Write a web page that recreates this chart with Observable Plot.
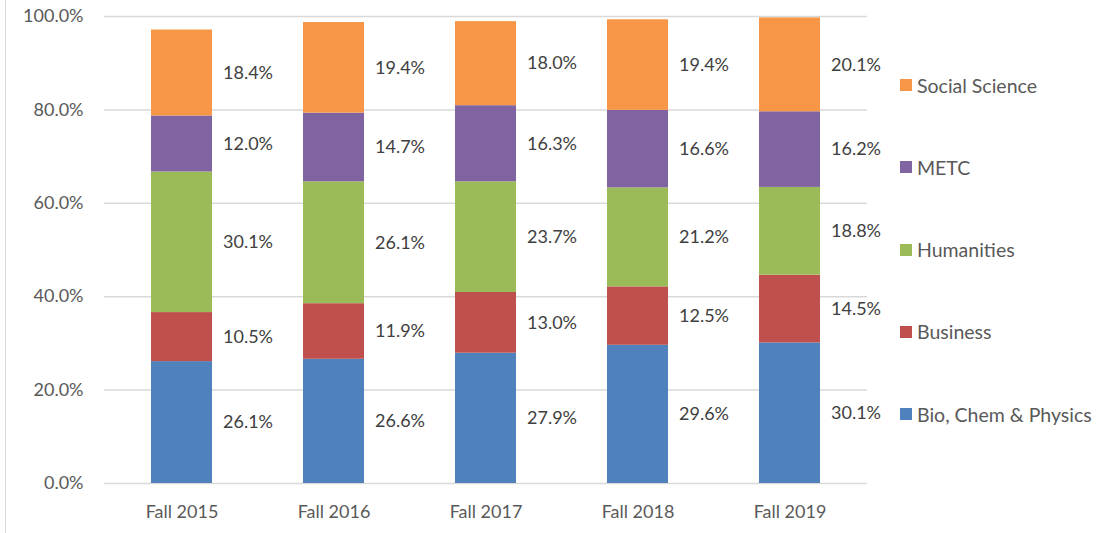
<!DOCTYPE html>
<html>
<head>
<meta charset="utf-8">
<script src="https://cdn.jsdelivr.net/npm/d3@7"></script>
<script src="https://cdn.jsdelivr.net/npm/@observablehq/plot@0.6"></script>
<style>
  html, body { margin: 0; padding: 0; background: #fff; }
  #wrap { position: relative; width: 1102px; height: 533px; font-family: Lato, "Open Sans", sans-serif; color: #595959; }
  #border { position: absolute; left: 5px; top: 0; width: 1px; height: 533px; background: #d9d9d9; }
  #legend { position: absolute; left: 900px; top: 73px; }
  .item { display: flex; align-items: center; height: 24px; margin-bottom: 58.3px; font-size: 19.5px; white-space: nowrap; }
  .sw { width: 12px; height: 12px; margin-right: 5px; }
</style>
</head>
<body>
<div id="wrap"><div id="border"></div><div id="chart"></div><div id="legend"></div></div>
<script>
const terms = ["Fall 2015", "Fall 2016", "Fall 2017", "Fall 2018", "Fall 2019"];
const series = ["Bio, Chem & Physics", "Business", "Humanities", "METC", "Social Science"];
const colors = ["#4F81BD", "#C0504D", "#9BBB59", "#8064A2", "#F79646"];
const bio = [26.1, 26.6, 27.9, 29.6, 30.1];
const business = [10.5, 11.9, 13.0, 12.5, 14.5];
const humanities = [30.1, 26.1, 23.7, 21.2, 18.8];
const metc = [12.0, 14.7, 16.3, 16.6, 16.2];
const social = [18.4, 19.4, 18.0, 19.4, 20.1];
const yTicks = [0, 20, 40, 60, 80, 100];

const valuesBySeries = [bio, business, humanities, metc, social];
const rows = [];
terms.forEach((t, i) => {
  series.forEach((s, j) => rows.push({term: t, series: s, value: valuesBySeries[j][i]}));
});

const fmt = v => v.toFixed(1) + "%";

const chart = Plot.plot({
  width: 1102,
  height: 533,
  marginLeft: 104,
  marginRight: 235,
  marginTop: 16,
  marginBottom: 50,
  style: {fontFamily: "Lato, 'Open Sans', sans-serif", fontSize: "18px", color: "#595959", background: "#fff"},
  x: {domain: terms, paddingInner: 0.6, paddingOuter: 0.3, label: null},
  y: {domain: [0, 100], label: null},
  color: {domain: series, range: colors},
  marks: [
    Plot.gridY(yTicks, {stroke: "#d9d9d9", strokeOpacity: 1, strokeWidth: 1.5}),
    Plot.barY(rows, Plot.stackY({x: "term", y: "value", fill: "series", order: null})),
    Plot.text(rows, Plot.stackY({x: "term", y: "value", text: d => fmt(d.value), dx: 66, fill: "#404040", fontSize: 18, order: null})),
    Plot.axisY({ticks: yTicks, tickFormat: d => d.toFixed(1) + "%", tickSize: 0, tickPadding: 21, fill: "#595959", label: null}),
    Plot.axisX({tickSize: 0, tickPadding: 22, fill: "#595959", label: null})
  ]
});
document.getElementById("chart").appendChild(chart);

const legend = document.getElementById("legend");
series.slice().reverse().forEach((s) => {
  const idx = series.indexOf(s);
  const it = document.createElement("div");
  it.className = "item";
  it.innerHTML = `<div class="sw" style="background:${colors[idx]}"></div><span>${s}</span>`;
  legend.appendChild(it);
});
</script>
</body>
</html>
